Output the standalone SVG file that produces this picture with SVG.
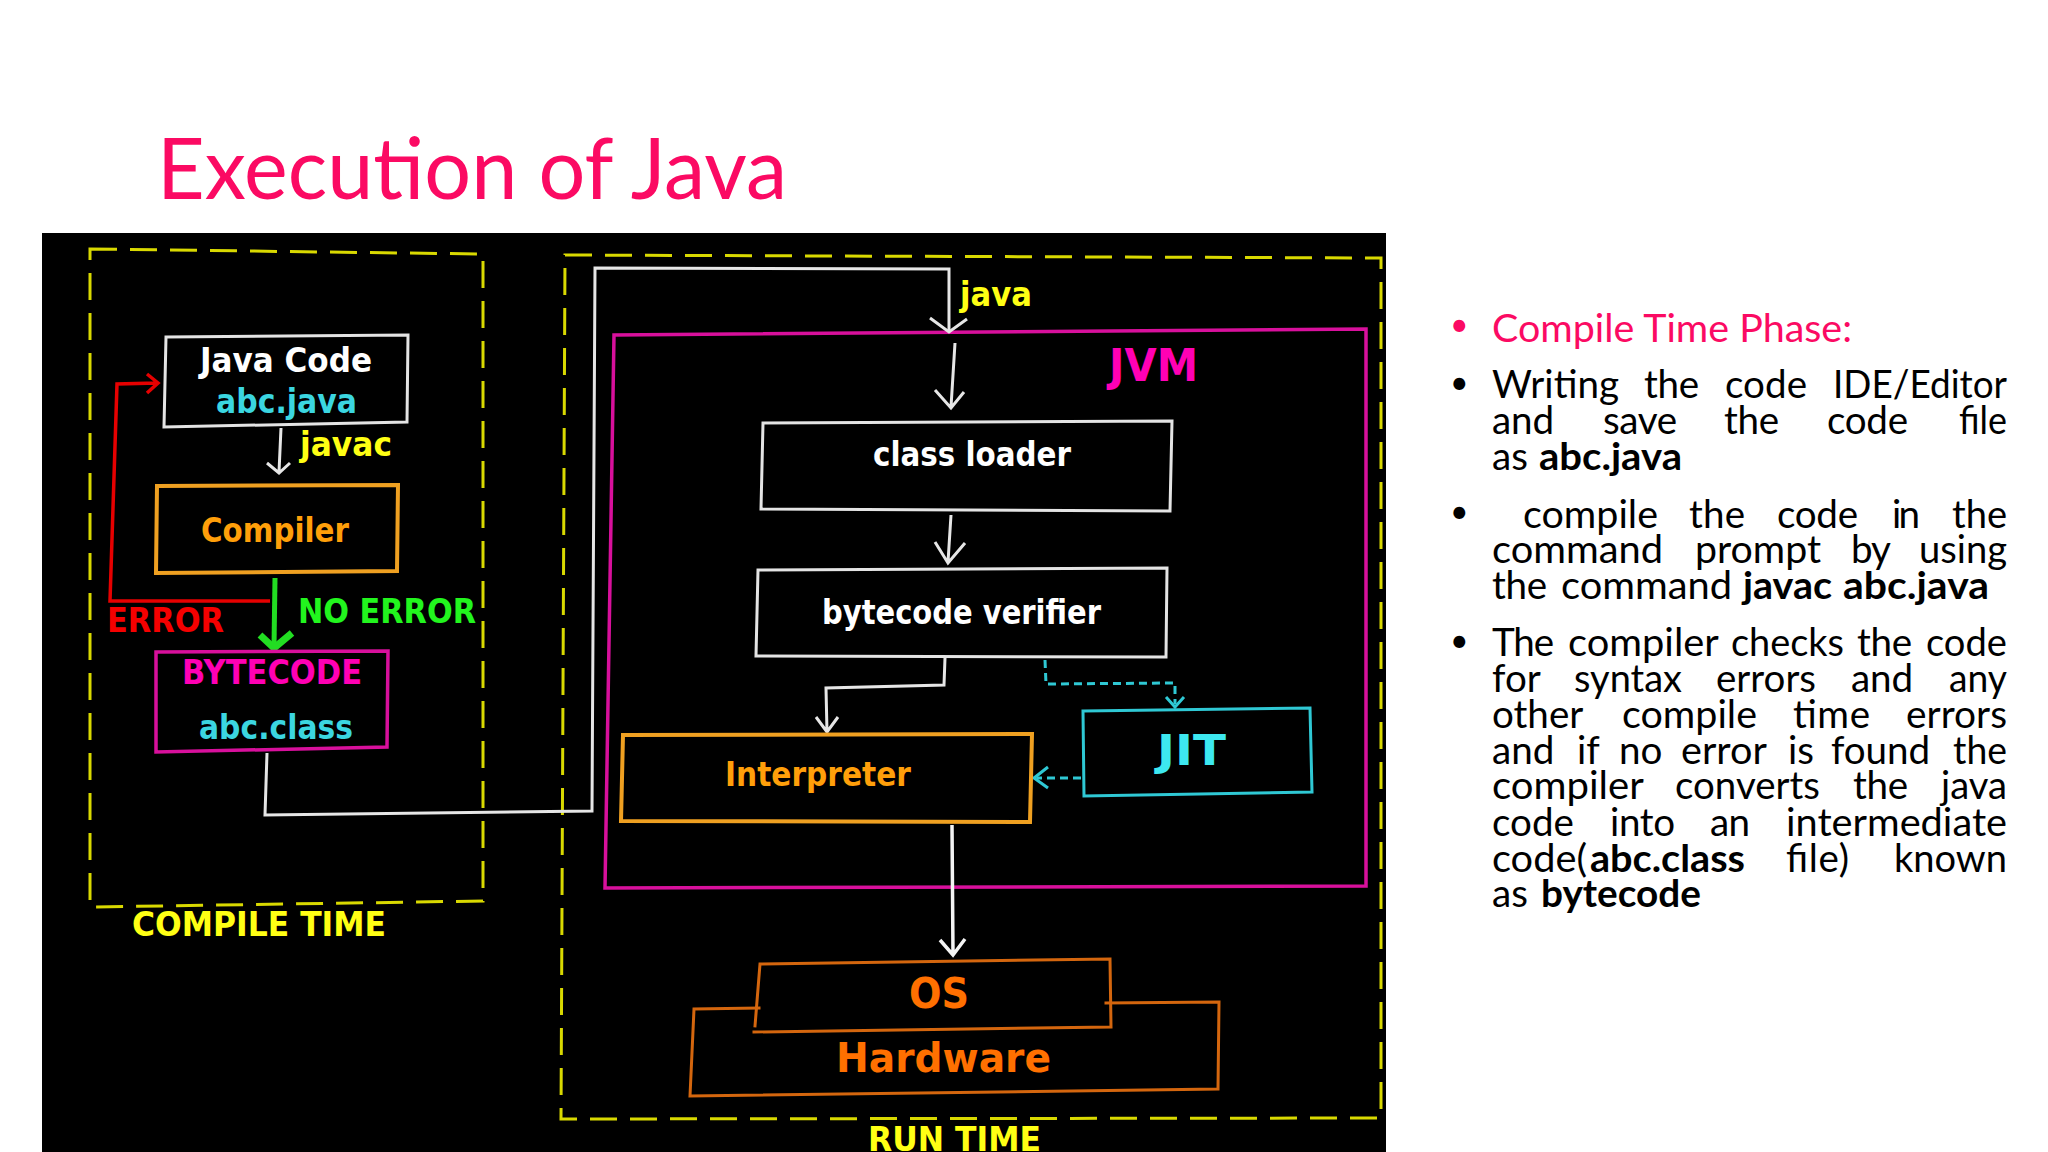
<svg xmlns="http://www.w3.org/2000/svg" width="2048" height="1152" viewBox="0 0 2048 1152">
<style>
.d{font-family:"DejaVu Sans",sans-serif;font-weight:700}
.b{font-family:Lato,"Open Sans",sans-serif;font-size:38.6px;fill:#000}
.bl{font-size:32px}
.b tspan.k{font-weight:700}
.box{fill:none;stroke-linejoin:miter;stroke-linecap:square}
.dash{fill:none;stroke:#d9d900;stroke-width:3;stroke-dasharray:27 13}
.wh{stroke:#e4e4e4;stroke-width:3}
.or{stroke:#efa021;stroke-width:4}
.mg{stroke:#d8109c;stroke-width:3.5}
.cy{stroke:#2fc8d4;stroke-width:3}
.hw{stroke:#d4660e;stroke-width:3}
.c{fill:none;stroke:#e6e6e6;stroke-width:3;stroke-linejoin:miter}
</style>
<rect width="2048" height="1152" fill="#fff"/>
<text id="title" x="157" y="199" font-family="Lato,'Open Sans',sans-serif" font-size="85" fill="#fb0a63" textLength="630" lengthAdjust="spacingAndGlyphs">Execution of Java</text>
<rect id="panel" x="42" y="233" width="1344" height="919" fill="#000"/>

<g id="compile-time">
<path class="dash" d="M90 249L483 254L483 901L90 907Z"/>
<text class="d" x="132" y="936" fill="#ffff14" font-size="34" textLength="254" lengthAdjust="spacingAndGlyphs">COMPILE TIME</text>
</g>
<g id="run-time">
<path class="dash" d="M565 255L1381 258L1381 1118L561 1119Z"/>
<text class="d" x="868" y="1151" fill="#ffff14" font-size="33" textLength="173" lengthAdjust="spacingAndGlyphs">RUN TIME</text>
</g>
<g id="jvm">
<path class="box mg" d="M614 335L1366 329L1366 886L605 888Z"/>
<text class="d" x="1109" y="381" fill="#ff00b4" font-size="44" textLength="89" lengthAdjust="spacingAndGlyphs">JVM</text>
</g>

<g id="connectors">
<path class="c" d="M267 753L265 815L592 811L595 268L949 269L949 331"/>
<path class="c" d="M930 318L949 332L967 319"/>
<path class="c" d="M281 428L279 472M267 463L279 473L290 463"/>
<path class="c" d="M955 343L951 407M935 390L951 408L964 392"/>
<path class="c" d="M951 515L948 562M935 542L948 563L965 543"/>
<path class="c" d="M945 658L944 685L826 688L827 732M816 717L827 732L838 717"/>
<path class="c" style="stroke-width:3.5;stroke:#f4f4f4" d="M952 825L953 955M940 940L953 955L965 939"/>
<path fill="none" stroke="#e60000" stroke-width="3.5" d="M270 601L110 601L117 384L157 383M147 374L158 383L147 393"/>
<path fill="none" stroke="#22dd22" stroke-width="5" d="M275 578L274 646"/>
<path fill="none" stroke="#22dd22" stroke-width="7" d="M260 635L274 648L292 633"/>
<path fill="none" stroke="#2fc8d4" stroke-width="3" stroke-dasharray="8 5" d="M1045 660L1046 684L1175 683L1175 704"/>
<path fill="none" stroke="#2fc8d4" stroke-width="3" d="M1166 697L1175 707L1184 697"/>
<path fill="none" stroke="#2fc8d4" stroke-width="3" stroke-dasharray="8 5" d="M1081 778L1037 778"/>
<path fill="none" stroke="#2fc8d4" stroke-width="3" d="M1048 767L1034 778L1048 788"/>
</g>

<g id="java-code">
<path class="box wh" d="M166 337L408 335L407 422L164 427Z"/>
<text class="d" x="200" y="372" fill="#fff" font-size="34" textLength="172" lengthAdjust="spacingAndGlyphs">Java Code</text>
<text class="d" x="216" y="413" fill="#3bd6e0" font-size="34" textLength="141" lengthAdjust="spacingAndGlyphs">abc.java</text>
</g>
<text id="label-javac" class="d" x="300" y="456" fill="#ffff14" font-size="34" textLength="92" lengthAdjust="spacingAndGlyphs">javac</text>
<g id="compiler">
<path class="box or" d="M157 486L398 485L397 571L156 573Z"/>
<text class="d" x="201" y="542" fill="#ff9f0a" font-size="34" textLength="148" lengthAdjust="spacingAndGlyphs">Compiler</text>
</g>
<text id="label-error" class="d" x="107" y="632" fill="#f50000" font-size="34" textLength="117" lengthAdjust="spacingAndGlyphs">ERROR</text>
<text id="label-no-error" class="d" x="298" y="623" fill="#22f51e" font-size="34" textLength="178" lengthAdjust="spacingAndGlyphs">NO ERROR</text>
<g id="bytecode">
<path class="box mg" d="M156 652L388 651L387 747L156 752Z"/>
<text class="d" x="182" y="684" fill="#ff00b4" font-size="34" textLength="180" lengthAdjust="spacingAndGlyphs">BYTECODE</text>
<text class="d" x="199" y="739" fill="#3bd6e0" font-size="34" textLength="154" lengthAdjust="spacingAndGlyphs">abc.class</text>
</g>
<text id="label-java" class="d" x="960" y="306" fill="#ffff14" font-size="34" textLength="72" lengthAdjust="spacingAndGlyphs">java</text>
<g id="class-loader">
<path class="box wh" d="M763 423L1172 421L1170 511L761 509Z"/>
<text class="d" x="873" y="466" fill="#fff" font-size="34" textLength="198" lengthAdjust="spacingAndGlyphs">class loader</text>
</g>
<g id="bytecode-verifier">
<path class="box wh" d="M758 570L1167 568L1166 657L756 656Z"/>
<text class="d" x="822" y="624" fill="#fff" font-size="34" textLength="279" lengthAdjust="spacingAndGlyphs">bytecode verifier</text>
</g>
<g id="interpreter">
<path class="box or" d="M623 735L1032 734L1030 822L621 821Z"/>
<text class="d" x="725" y="786" fill="#ff9f0a" font-size="34" textLength="186" lengthAdjust="spacingAndGlyphs">Interpreter</text>
</g>
<g id="jit">
<path class="box cy" d="M1083 711L1310 708L1312 792L1084 796Z"/>
<text class="d" x="1157" y="765" fill="#3de8f0" font-size="43" textLength="69" lengthAdjust="spacingAndGlyphs">JIT</text>
</g>
<g id="hardware">
<path class="box hw" d="M759 1008L694 1009L690 1096L1218 1089L1219 1002L1106 1003"/>
<text class="d" x="836" y="1072" fill="#ff7000" font-size="40" textLength="215" lengthAdjust="spacingAndGlyphs">Hardware</text>
</g>
<g id="os">
<path class="box hw" d="M755 1026L760 964L1110 959L1111 1027L754 1032"/>
<text class="d" x="909" y="1008" fill="#ff7000" font-size="42" textLength="60" lengthAdjust="spacingAndGlyphs">OS</text>
</g>

<g id="notes">
<text class="b bl" x="1450" y="336" style="fill:#fb0a63">•</text>
<text class="b" x="1492" y="342" style="fill:#fb0a63" textLength="360" lengthAdjust="spacingAndGlyphs">Compile Time Phase:</text>
<text class="b bl" x="1450" y="394">•</text>
<text class="b" y="398"><tspan x="1492" textLength="127">Writing</tspan> <tspan x="1644" textLength="55">the</tspan> <tspan x="1725" textLength="82">code</tspan> <tspan x="1833" textLength="174" lengthAdjust="spacingAndGlyphs">IDE/Editor</tspan></text>
<text class="b" y="434"><tspan x="1492" textLength="62">and</tspan> <tspan x="1603" textLength="74">save</tspan> <tspan x="1724" textLength="55">the</tspan> <tspan x="1827" textLength="81">code</tspan> <tspan x="1959" textLength="48" lengthAdjust="spacingAndGlyphs">file</tspan></text>
<text class="b" y="470"><tspan x="1492">as</tspan> <tspan class="k" x="1539" textLength="143" lengthAdjust="spacingAndGlyphs">abc.java</tspan></text>
<text class="b bl" x="1450" y="523">•</text>
<text class="b" y="528"><tspan x="1523" textLength="135" lengthAdjust="spacingAndGlyphs">compile</tspan> <tspan x="1689" textLength="56">the</tspan> <tspan x="1777" textLength="81">code</tspan> <tspan x="1892" textLength="28">in</tspan> <tspan x="1952" textLength="55" lengthAdjust="spacingAndGlyphs">the</tspan></text>
<text class="b" y="563"><tspan x="1492" textLength="171" lengthAdjust="spacingAndGlyphs">command</tspan> <tspan x="1695" textLength="126" lengthAdjust="spacingAndGlyphs">prompt</tspan> <tspan x="1851" textLength="39">by</tspan> <tspan x="1919" textLength="88" lengthAdjust="spacingAndGlyphs">using</tspan></text>
<text class="b" y="599"><tspan x="1492" textLength="55">the</tspan> <tspan x="1561" textLength="171" lengthAdjust="spacingAndGlyphs">command</tspan> <tspan class="k" x="1743" textLength="89" lengthAdjust="spacingAndGlyphs">javac</tspan> <tspan class="k" x="1843" textLength="146" lengthAdjust="spacingAndGlyphs">abc.java</tspan></text>
<text class="b bl" x="1450" y="652">•</text>
<text class="b" y="656"><tspan x="1492" textLength="62">The</tspan> <tspan x="1568" textLength="150" lengthAdjust="spacingAndGlyphs">compiler</tspan> <tspan x="1731" textLength="113" lengthAdjust="spacingAndGlyphs">checks</tspan> <tspan x="1857" textLength="55">the</tspan> <tspan x="1926" textLength="81" lengthAdjust="spacingAndGlyphs">code</tspan></text>
<text class="b" y="692"><tspan x="1492">for</tspan> <tspan x="1574" textLength="108" lengthAdjust="spacingAndGlyphs">syntax</tspan> <tspan x="1716" textLength="100" lengthAdjust="spacingAndGlyphs">errors</tspan> <tspan x="1851" textLength="62">and</tspan> <tspan x="1949" textLength="58" lengthAdjust="spacingAndGlyphs">any</tspan></text>
<text class="b" y="728"><tspan x="1492">other</tspan> <tspan x="1622" textLength="135" lengthAdjust="spacingAndGlyphs">compile</tspan> <tspan x="1793" textLength="77">time</tspan> <tspan x="1906" textLength="101" lengthAdjust="spacingAndGlyphs">errors</tspan></text>
<text class="b" y="764"><tspan x="1492">and</tspan> <tspan x="1577">if</tspan> <tspan x="1619">no</tspan> <tspan x="1681" textLength="85" lengthAdjust="spacingAndGlyphs">error</tspan> <tspan x="1788">is</tspan> <tspan x="1831" textLength="99">found</tspan> <tspan x="1953" textLength="54" lengthAdjust="spacingAndGlyphs">the</tspan></text>
<text class="b" y="799"><tspan x="1492" textLength="151" lengthAdjust="spacingAndGlyphs">compiler</tspan> <tspan x="1675" textLength="145" lengthAdjust="spacingAndGlyphs">converts</tspan> <tspan x="1853" textLength="55">the</tspan> <tspan x="1941" textLength="66" lengthAdjust="spacingAndGlyphs">java</tspan></text>
<text class="b" y="836"><tspan x="1492">code</tspan> <tspan x="1610" textLength="65">into</tspan> <tspan x="1710" textLength="40">an</tspan> <tspan x="1786" textLength="221" lengthAdjust="spacingAndGlyphs">intermediate</tspan></text>
<text class="b" y="872"><tspan x="1492" textLength="95" lengthAdjust="spacingAndGlyphs">code(</tspan><tspan class="k" x="1590" textLength="155" lengthAdjust="spacingAndGlyphs">abc.class</tspan> <tspan x="1786" textLength="63">file)</tspan> <tspan x="1894" textLength="113" lengthAdjust="spacingAndGlyphs">known</tspan></text>
<text class="b" y="907"><tspan x="1492">as</tspan> <tspan class="k" x="1541" textLength="160" lengthAdjust="spacingAndGlyphs">bytecode</tspan></text>
</g>
</svg>
